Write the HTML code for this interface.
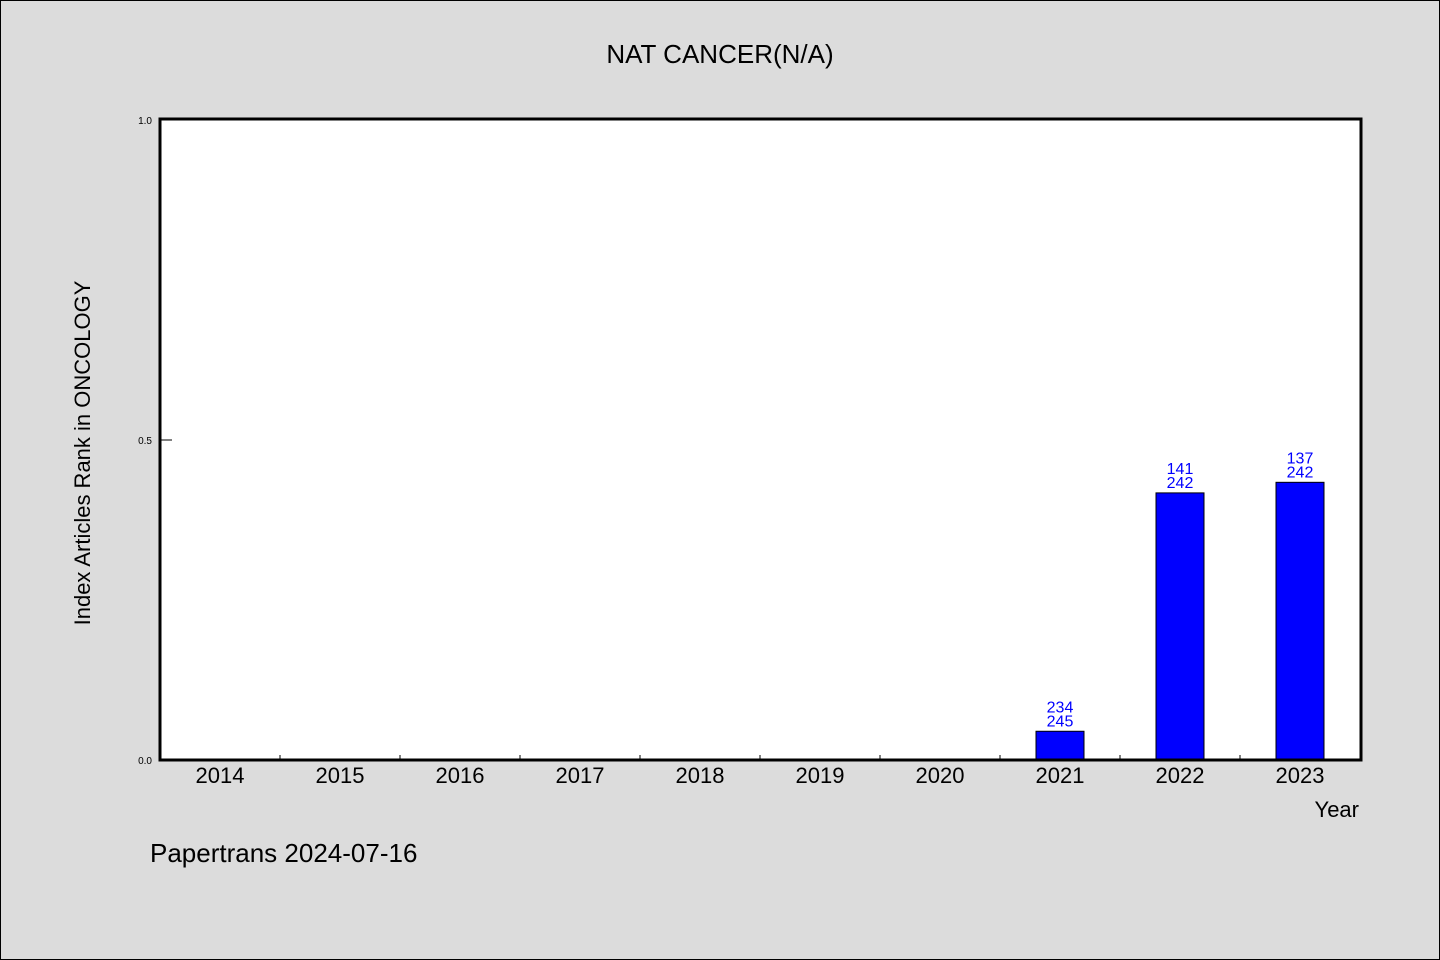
<!DOCTYPE html>
<html><head><meta charset="utf-8"><style>
body{margin:0;background:#dcdcdc;}
svg{display:block;font-family:"WenQuanYi Zen Hei","Liberation Sans",sans-serif;}
</style></head><body>
<svg id="c" width="1440" height="960" xmlns="http://www.w3.org/2000/svg">
<rect x="0.5" y="0.5" width="1439" height="959" fill="#dcdcdc" stroke="#000"/>
<text x="720" y="63" font-size="26" text-anchor="middle">NAT CANCER(N/A)</text>
<rect x="160" y="119" width="1201" height="641" fill="#fff"/>
<g id="marks"></g>
<rect x="160" y="119" width="1201" height="641" fill="none" stroke="#000" stroke-width="3"/>
<text transform="translate(90,453) rotate(-90)" font-size="22" text-anchor="middle">Index Articles Rank in ONCOLOGY</text>
<text x="1359" y="817" font-size="22" text-anchor="end">Year</text>
<text x="150" y="862" font-size="26">Papertrans 2024-07-16</text>
</svg>
<script>
const categories=["2014","2015","2016","2017","2018","2019","2020","2021","2022","2023"];
const ranks=[null,null,null,null,null,null,null,234,141,137];
const totals=[null,null,null,null,null,null,null,245,242,242];
const yTicks=[0,0.5,1];
const yTickLabels=["0.0","0.5","1.0"];
const ns="http://www.w3.org/2000/svg";
const g=document.getElementById('marks');
const x0=160,bw=120,yBase=760,yTop=120;
const xs=i=>x0+bw*i+bw/2;
const ys=v=>yBase-(yBase-yTop)*v;
function mk(t,a){const e=document.createElementNS(ns,t);for(const k in a)e.setAttribute(k,a[k]);g.appendChild(e);return e;}
yTicks.forEach((v,i)=>{
 const l=mk('line',{x1:160,x2:172,y1:ys(v),y2:ys(v),stroke:'#000'});
 
 
 const t=mk('text',{x:152,y:ys(v)+4,'font-size':10,'text-anchor':'end'});
 t.textContent=yTickLabels[i];
 
 
});
categories.forEach((c,i)=>{
 if(i>0){const l=mk('line',{x1:x0+bw*i,x2:x0+bw*i,y1:755,y2:760,stroke:'#000'});
 
 }
 const t=mk('text',{x:xs(i),y:783,'font-size':22,'text-anchor':'middle'});
 t.textContent=c;
 
 
 if(ranks[i]!=null){
  const v=1-ranks[i]/totals[i];
  const r=mk('rect',{x:xs(i)-24,y:ys(v),width:48,height:yBase-ys(v),fill:'#0000ff',stroke:'#000','stroke-width':1});
  
  
  const t1=mk('text',{x:xs(i),y:ys(v)-19,'font-size':16,fill:'#0000ff','text-anchor':'middle'});
  t1.textContent=ranks[i];
  
  
  const t2=mk('text',{x:xs(i),y:ys(v)-5,'font-size':16,fill:'#0000ff','text-anchor':'middle'});
  t2.textContent=totals[i];
  
  
 }
});
</script>
</body></html>
